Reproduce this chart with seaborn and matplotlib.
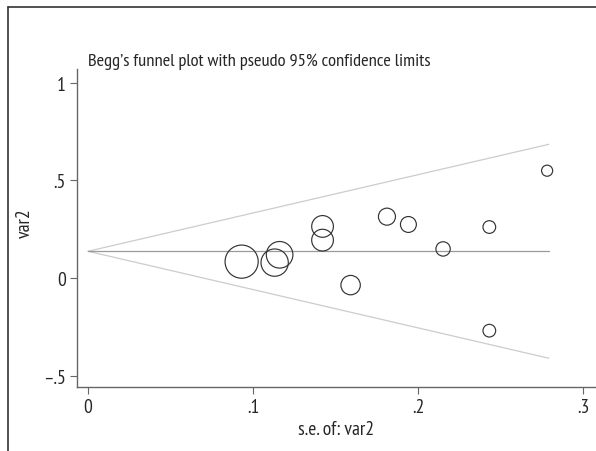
import numpy as np
import pandas as pd
import matplotlib
matplotlib.use("Agg")
import matplotlib.pyplot as plt
import seaborn as sns

# -------------------------------
# DATA
# -------------------------------
se_vals = [0.093, 0.113, 0.116, 0.142, 0.142, 0.159, 0.181, 0.194, 0.215, 0.243, 0.243, 0.278]
effect_vals = [0.085, 0.080, 0.120, 0.265, 0.195, -0.035, 0.315, 0.275, 0.150, 0.262, -0.268, 0.550]
pooled = 0.138
se_max = 0.279

x_ticks = [0, 0.1, 0.2, 0.3]
x_ticklabels = ["0", ".1", ".2", ".3"]
y_ticks = [-0.5, 0, 0.5, 1]
y_ticklabels = ["\u2013.5", "0", ".5", "1"]

df = pd.DataFrame({"se": se_vals, "effect": effect_vals})
df["weight"] = 1 / df["se"] ** 2

# -------------------------------
# STYLE
# -------------------------------
sns.set_style("white")
plt.rcParams["font.family"] = ["PT Sans Narrow", "Fira Sans Condensed", "Open Sans Condensed",
                               "Asap Condensed", "Archivo Narrow", "DejaVu Sans"]

fig = plt.figure(figsize=(5.96, 4.52), dpi=100)
ax = fig.add_axes([77 / 596, 1 - 388 / 452, 518 / 596, 318 / 452])

# pseudo 95% confidence limits
se_line = np.array([0, se_max])
ax.plot(se_line, pooled + 1.96 * se_line, color="#cccccc", lw=0.9, zorder=1)
ax.plot(se_line, pooled - 1.96 * se_line, color="#cccccc", lw=0.9, zorder=1)
ax.plot(se_line, [pooled, pooled], color="#9a9a9a", lw=0.9, zorder=1)

# marker area proportional to weight (1/se^2)
w_min, w_max = df["weight"].min(), df["weight"].max()
k = 570 / w_max
sns.scatterplot(data=df, x="se", y="effect", size="weight",
                sizes=(k * w_min, k * w_max), facecolor="none",
                edgecolor="#333333", linewidth=0.85, legend=False, ax=ax, zorder=3)

ax.set_xlim(-0.0067, 0.307)
ax.set_ylim(-0.556, 1.07)
ax.set_xticks(x_ticks)
ax.set_xticklabels(x_ticklabels)
ax.set_yticks(y_ticks)
ax.set_yticklabels(y_ticklabels)
ax.tick_params(axis="both", which="major", direction="out", length=5, width=0.8,
               color="#666666", labelsize=14, pad=3, bottom=True, left=True)
for side in ["top", "right"]:
    ax.spines[side].set_visible(False)
for side in ["left", "bottom"]:
    ax.spines[side].set_color("#666666")
    ax.spines[side].set_linewidth(1.0)

ax.set_xlabel("s.e. of: var2", fontsize=14)
ax.xaxis.set_label_coords(0.5, -0.105)
ax.set_ylabel("var2", fontsize=14)
ax.yaxis.set_label_coords(-0.084, 0.52)

fig.text(88 / 596, 1 - 66 / 452, "Begg\u2019s funnel plot with pseudo 95% confidence limits",
         fontsize=13.3, ha="left", va="baseline")

# outer frame (top and left edges visible)
fig.add_artist(plt.Line2D([8 / 596, 1], [1 - 8 / 452, 1 - 8 / 452], color="#333333", lw=1.2,
                          transform=fig.transFigure))
fig.add_artist(plt.Line2D([8 / 596, 8 / 596], [0, 1 - 8 / 452], color="#333333", lw=1.2,
                          transform=fig.transFigure))

fig.savefig("out.png", dpi=100)
